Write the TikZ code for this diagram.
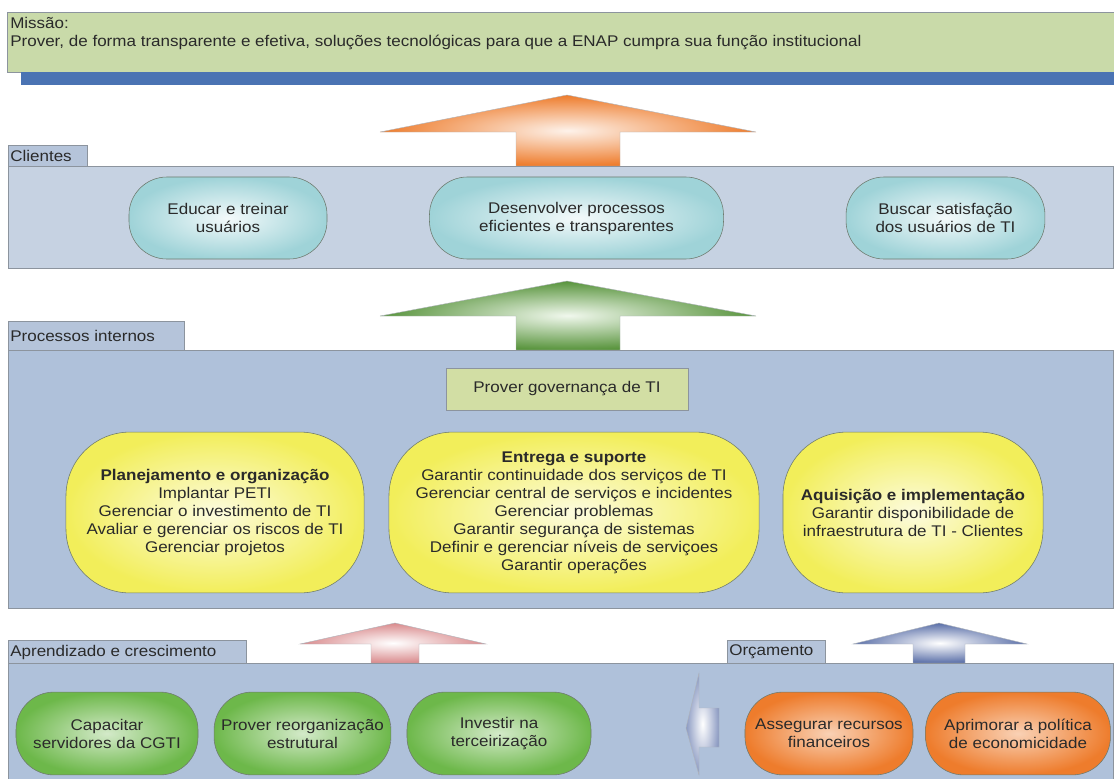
\documentclass[tikz,border=0pt]{standalone}
\usepackage{fontspec}
\setmainfont[FakeStretch=1.1]{Liberation Sans}
\usepackage{tikz}
\usetikzlibrary{calc}

\definecolor{texto}{HTML}{2A2A2A}
\definecolor{borda}{HTML}{8C949E}
\definecolor{bordano}{HTML}{6E7A6E}
\definecolor{missaocor}{HTML}{C9DAA9}
\definecolor{barra}{HTML}{4A73B3}
\definecolor{painelcli}{HTML}{C6D2E2}
\definecolor{painelpro}{HTML}{AFC1DA}
\definecolor{abacor}{HTML}{B5C4DA}
\definecolor{govcor}{HTML}{D2DEA4}
\definecolor{ciano}{HTML}{9FD3D8}
\definecolor{amarelo}{HTML}{F2EE5A}
\definecolor{verde}{HTML}{6DB84A}
\definecolor{laranja}{HTML}{EE7C2C}
\definecolor{rosa}{HTML}{D98A8C}
\definecolor{azulseta}{HTML}{5A6FA8}

\begin{document}
\begin{tikzpicture}[x=0.025cm,y=-0.025cm,
  every node/.style={font=\fontsize{11}{12.8}\selectfont,text=texto},
  painel/.style={draw=borda,line width=0.6pt},
  aba/.style={draw=borda,fill=abacor,line width=0.6pt},
  rotulo/.style={anchor=west,inner sep=0pt},
  cliente/.style={draw=bordano,inner color=white!88!ciano,outer color=ciano,rounded corners=0.95cm,align=center,minimum height=2.05cm},
  processo/.style={draw=bordano,inner color=white!80!amarelo,outer color=amarelo,rounded corners=1.6cm,align=center,minimum height=4.02cm},
  aprendizado/.style={draw=bordano,inner color=white!70!verde,outer color=verde,rounded corners=0.95cm,align=center,minimum height=2.07cm},
  orcamento/.style={draw=bordano,inner color=white!65!laranja,outer color=laranja,rounded corners=0.95cm,align=center,minimum height=2.07cm},
  seta/.style={draw=borda!70,line width=0.3pt}]

\useasboundingbox (0,0) rectangle (1114,778);

\pgfmathsetmacro{\YCLI}{218}
\pgfmathsetmacro{\YPRO}{512.5}
\pgfmathsetmacro{\YAPR}{733.5}

% missao
\draw[draw=borda,fill=missaocor,line width=0.6pt] (7,12) rectangle (1114,72);
\fill[barra] (21,72) rectangle (1114,85);
\node (missao) [anchor=base west,align=left,inner sep=0pt] at (10,46)
  {Missão:\\Prover, de forma transparente e efetiva, soluções tecnológicas para que a ENAP cumpra sua função institucional};

% seta laranja
\shade[seta,inner color=white!90!laranja,outer color=laranja]
  (516,166)--(516,132)--(380,132)--(567,95)--(756,132)--(620,132)--(620,166)--cycle;

% clientes
\draw[aba] (8,145) rectangle (87,166);
\draw[painel,fill=painelcli] (8,166) rectangle (1113,268);
\node (tabcli) [rotulo] at (10,155.5) {Clientes};
\node (educar) [cliente,minimum width=4.95cm] at (228,\YCLI) {Educar e treinar\\usuários};
\node (desenv) [cliente,minimum width=7.35cm] at (576.5,\YCLI) {Desenvolver processos\\eficientes e transparentes};
\node (buscar) [cliente,minimum width=4.97cm] at (945.5,\YCLI) {Buscar satisfação\\dos usuários de TI};

% seta verde
\shade[seta,inner color=white!90!verde,outer color=verde!80!black]
  (516,350)--(516,316)--(380,316)--(567,281)--(756,316)--(620,316)--(620,350)--cycle;

% processos internos
\draw[aba] (8,321) rectangle (184,350);
\draw[painel,fill=painelpro] (8,350) rectangle (1113,608);
\node (tabpro) [rotulo] at (10,335.5) {Processos internos};
\node (gov) [draw=borda,fill=govcor,minimum width=6.05cm,minimum height=1.05cm] at (567,389) {Prover governança de TI};
\node (plan) [processo,minimum width=7.45cm] at (215,\YPRO)
  {\textbf{Planejamento e organização}\\Implantar PETI\\Gerenciar o investimento de TI\\Avaliar e gerenciar os riscos de TI\\Gerenciar projetos};
\node (entrega) [processo,minimum width=9.25cm] at (574,\YPRO)
  {\textbf{Entrega e suporte}\\Garantir continuidade dos serviços de TI\\Gerenciar central de serviços e incidentes\\Gerenciar problemas\\Garantir segurança de sistemas\\Definir e gerenciar níveis de serviçoes\\Garantir operações};
\node (aquis) [processo,minimum width=6.5cm] at (913,\YPRO)
  {\textbf{Aquisição e implementação}\\Garantir disponibilidade de\\infraestrutura de TI - Clientes};

% setas rosa e azul
\shade[seta,inner color=white,outer color=rosa]
  (371,663)--(371,644)--(300,644)--(395,623)--(486,644)--(419,644)--(419,663)--cycle;
\shade[seta,inner color=white,outer color=azulseta]
  (913,663)--(913,644)--(853,644)--(939,623)--(1027,644)--(965,644)--(965,663)--cycle;

% aprendizado e orcamento
\draw[aba] (8,640) rectangle (246,663);
\draw[aba] (727,640) rectangle (825,663);
\draw[painel,fill=painelpro] (8,663) rectangle (1113,790);
\node (tabapr) [rotulo] at (10,652) {Aprendizado e crescimento};
\node (taborc) [rotulo] at (729,652) {Orçamento};

\node (capacitar) [aprendizado,minimum width=4.55cm] at (107,\YAPR) {Capacitar\\servidores da CGTI};
\node (reorg) [aprendizado,minimum width=4.42cm] at (302.5,\YAPR) {Prover reorganização\\estrutural};
\node (investir) [aprendizado,minimum width=4.6cm] at (499,\YAPR) {Investir na\\terceirização};

% seta para a esquerda
\shade[seta,inner color=white,outer color=azulseta!70]
  (686,728)--(699,673)--(699,708)--(719,708)--(719,747)--(699,747)--(699,775)--cycle;

\node (assegurar) [orcamento,minimum width=4.2cm] at (829,\YAPR) {Assegurar recursos\\financeiros};
\node (aprimorar) [orcamento,minimum width=4.62cm] at (1018,\YAPR) {Aprimorar a política\\de economicidade};
\end{tikzpicture}
\end{document}
